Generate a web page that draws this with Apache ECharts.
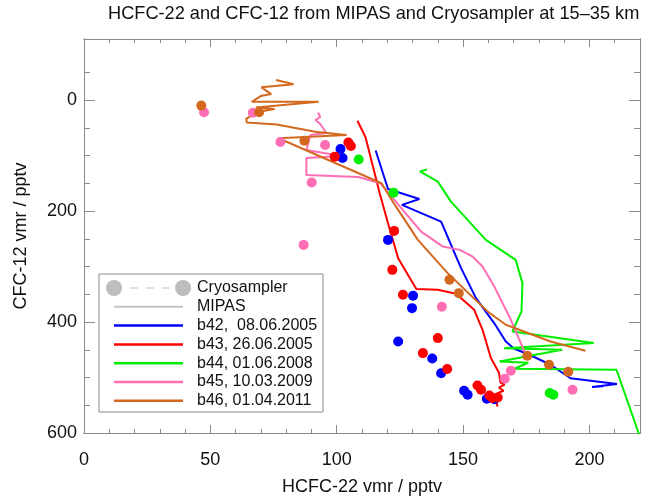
<!DOCTYPE html>
<html><head><meta charset="utf-8">
<script src="https://cdn.jsdelivr.net/npm/echarts@6/dist/echarts.min.js"></script>
<style>html,body{margin:0;padding:0;background:#fff}#c{width:645px;height:496px}</style>
</head><body><div id="c"></div>
<script>
// ---------- data ----------
const titleText = 'HCFC-22 and CFC-12 from MIPAS and Cryosampler at 15\u201335 km';
const xName = 'HCFC-22 vmr / pptv';
const yName = 'CFC-12 vmr / pptv';
const xMajorTicks = [0, 50, 100, 150, 200];
const xMinorTicks = [10,20,30,40,60,70,80,90,110,120,130,140,160,170,180,190,210];
const yMajorTicks = [0, 200, 400, 600];
const yMinorTicks = [-50,50,100,150,250,300,350,450,500,550];
const balloonLabels = ['b42,  08.06.2005','b43, 26.06.2005','b44, 01.06.2008','b45, 10.03.2009','b46, 01.04.2011'];
const balloonColors = ['#0000ff','#ff0000','#00ee00','#ff6eb4','#d2691e'];

// MIPAS profiles [HCFC-22, CFC-12]
const mipasB42 = [[115.4,90.9],[120.3,160.2],[132.7,178.2],[125.8,189],[141.3,219.1],[149.2,302.9],[155.1,356.9],[162.3,401.9],[166.9,435.1],[170.2,448.2],[175.4,457.2],[184.6,477],[192.5,501.3],[210.9,511.7],[201.0,517.1],[205.4,515.7]];
const mipasB43 = [[108.2,37.3],[111.4,67.1],[117.0,167.9],[120.3,221.9],[124.3,284.9],[131.5,340.7],[140.0,342],[147.2,349.2],[154.4,378],[157.7,414],[161.0,464.9],[164.2,491.4],[164.8,509.4],[166.4,513],[164.2,518.4],[166.0,523.8],[163.6,528.3],[164.8,534.6],[163.2,541.8],[163.6,552.6]];
const mipasB44 = [[135.7,125.1],[132.9,128.7],[140.0,147.1],[145.2,183.1],[159.0,252],[170.8,288],[173.5,329.9],[173.1,381.1],[169.5,417.1],[201.7,437.9],[166.2,447.3],[189.2,450],[164.4,471.1],[175.8,473.4],[170.3,484.2],[210.7,486],[219.6,602]];
const mipasB45 = [[92.6,22.5],[93.5,30.6],[91.6,36],[93.5,43.2],[95.9,59.4],[89.6,63],[88.0,90],[101.8,100.8],[88.0,104.4],[88.0,135],[108.5,138.6],[117.2,149.9],[133.4,237.1],[142.0,264.1],[148.7,270],[153.8,282.1],[157.7,300.1],[162.4,336.6],[168.9,396],[174.3,453.6]];
const mipasB46 = [[76.0,-36],[82.9,-28.3],[70.2,-22.9],[74.1,-10.8],[69.9,-7.2],[66.4,3.1],[92.8,3.1],[68.0,13.5],[75.4,16.2],[68.7,21.6],[64.2,33.3],[64.4,40.5],[76.3,44.1],[91.5,57.1],[103.9,63],[77.0,68.9],[117.7,149.9],[123.0,189],[132.1,252],[143.9,311.9],[159.7,381.1],[166.9,405],[174.1,417.1],[184.6,435.1],[198.4,451.8]];

// Cryosampler samples [HCFC-22, CFC-12]
const cryoB42 = [[101.5,88.2],[102.3,104.4],[120.3,252],[130.2,352.8],[129.8,375],[124.3,435],[137.8,465.7],[141.3,492.3],[150.4,523.8],[151.8,531],[159.4,538.2],[162.4,539.1]];
const cryoB43 = [[104.6,76.5],[105.6,82.8],[99.2,102],[122.7,235.8],[122.0,306],[126.2,351],[140.0,429],[134.1,456],[143.7,484.7],[155.7,514.3],[157.1,522],[160.4,532.3],[161.7,537],[163.7,535.9]];
const cryoB44 = [[108.7,107.1],[122.5,166.9],[184.3,528],[185.7,531]];
const cryoB45 = [[47.5,22.1],[66.8,22.9],[77.7,75.6],[95.4,81],[90.1,148.5],[86.9,261],[141.6,372.6],[168.9,487.8],[166.5,502.2],[193.3,522]];
const cryoB46 = [[46.4,10],[69.3,22],[87.2,73.3],[144.6,324],[148.3,348],[175.4,460.8],[184.0,477],[191.6,489.6]];

const mipasAll = [mipasB42, mipasB43, mipasB44, mipasB45, mipasB46];
const cryoAll = [cryoB42, cryoB43, cryoB44, cryoB45, cryoB46];

// ---------- chart ----------
const FONT = '"Liberation Sans", Arial, Helvetica, sans-serif';
const AX = '#8a8a8a';
const TXT = '#111';
const X_MIN = 0, X_MAX = 220, Y_MIN = -110, Y_MAX = 600;

function xAx(pos, ticks, len, labels, extra) {
  return Object.assign({
    type: 'value', position: pos, min: X_MIN, max: X_MAX,
    axisLine: { show: true, onZero: false, lineStyle: { color: AX, width: 1 } },
    axisTick: { show: true, inside: true, length: len, customValues: ticks, lineStyle: { color: AX } },
    axisLabel: labels ? { show: true, customValues: ticks, margin: 18, color: TXT, fontSize: 18, fontFamily: FONT } : { show: false },
    splitLine: { show: false }
  }, extra || {});
}
function yAx(pos, ticks, len, labels, extra) {
  return Object.assign({
    type: 'value', position: pos, min: Y_MIN, max: Y_MAX, inverse: true,
    axisLine: { show: true, onZero: false, lineStyle: { color: AX, width: 1 } },
    axisTick: { show: true, inside: true, length: len, customValues: ticks, lineStyle: { color: AX } },
    axisLabel: labels ? { show: true, customValues: ticks, margin: 7, color: TXT, fontSize: 18, fontFamily: FONT } : { show: false },
    splitLine: { show: false }
  }, extra || {});
}

const series = [];
mipasAll.forEach((d, i) => {
  series.push({
    type: 'line', name: balloonLabels[i] + ' MIPAS', data: d, xAxisIndex: 0, yAxisIndex: 0,
    showSymbol: false, symbol: 'none', lineStyle: { color: balloonColors[i], width: 2 },
    itemStyle: { color: balloonColors[i] }, z: 3, animation: false, clip: true
  });
});
cryoAll.forEach((d, i) => {
  series.push({
    type: 'scatter', name: balloonLabels[i] + ' Cryo', data: d, xAxisIndex: 0, yAxisIndex: 0,
    symbol: 'circle', symbolSize: 10, itemStyle: { color: balloonColors[i], opacity: 1 }, z: 4, animation: false
  });
});

// legend drawn as graphic, built from the label/colour arrays
const LG = { left: 99, top: 274, width: 224, height: 138, x1: 114, x2: 183, tx: 197, row0: 288, dy: 18.8 };
const legendChildren = [
  { type: 'rect', shape: { x: LG.left, y: LG.top, width: LG.width, height: LG.height },
    style: { fill: '#fff', stroke: '#8a8a8a', lineWidth: 1 } },
  { type: 'line', shape: { x1: LG.x1, y1: LG.row0, x2: LG.x2, y2: LG.row0 },
    style: { stroke: '#e2e2e2', lineWidth: 2, lineDash: [8, 8] } },
  { type: 'circle', shape: { cx: LG.x1, cy: LG.row0, r: 8 }, style: { fill: '#bdbdbd' } },
  { type: 'circle', shape: { cx: LG.x2, cy: LG.row0, r: 8 }, style: { fill: '#bdbdbd' } },
  { type: 'text', x: LG.tx, y: LG.row0, style: { text: 'Cryosampler', fill: TXT, font: '16px ' + FONT, verticalAlign: 'middle' } },
  { type: 'line', shape: { x1: LG.x1, y1: LG.row0 + LG.dy, x2: LG.x2, y2: LG.row0 + LG.dy },
    style: { stroke: '#c4c4c4', lineWidth: 2 } },
  { type: 'text', x: LG.tx, y: LG.row0 + LG.dy, style: { text: 'MIPAS', fill: TXT, font: '16px ' + FONT, verticalAlign: 'middle' } }
];
balloonLabels.forEach((lab, i) => {
  const yy = LG.row0 + LG.dy * (i + 2);
  legendChildren.push({ type: 'line', shape: { x1: LG.x1, y1: yy, x2: LG.x2, y2: yy },
    style: { stroke: balloonColors[i], lineWidth: 2.5 } });
  legendChildren.push({ type: 'text', x: LG.tx, y: yy,
    style: { text: lab, fill: TXT, font: '16px ' + FONT, verticalAlign: 'middle' } });
});

const chart = echarts.init(document.getElementById('c'), null, { renderer: 'canvas' });
chart.setOption({
  animation: false,
  backgroundColor: '#fff',
  title: { text: titleText, left: 108, top: 5, padding: 0,
    textStyle: { fontSize: 18.2, fontWeight: 'normal', color: TXT, fontFamily: FONT } },
  grid: { left: 84, right: 5, top: 39, bottom: 63, containLabel: false, outerBoundsMode: 'none' },
  xAxis: [
    xAx('bottom', xMajorTicks, 8, true, { name: xName, nameLocation: 'middle', nameGap: 45,
      nameTextStyle: { fontSize: 18, color: TXT, fontFamily: FONT } }),
    xAx('bottom', xMinorTicks, 4, false),
    xAx('top', xMajorTicks, 8, false),
    xAx('top', xMinorTicks, 4, false)
  ],
  yAxis: [
    yAx('left', yMajorTicks, 11, true, { name: yName, nameLocation: 'middle', nameGap: 54,
      nameTextStyle: { fontSize: 18, color: TXT, fontFamily: FONT } }),
    yAx('left', yMinorTicks, 6, false),
    yAx('right', yMajorTicks, 11, false),
    yAx('right', yMinorTicks, 6, false)
  ],
  series: series,
  graphic: [{ type: 'group', z: 100, children: legendChildren }]
});
</script></body></html>
